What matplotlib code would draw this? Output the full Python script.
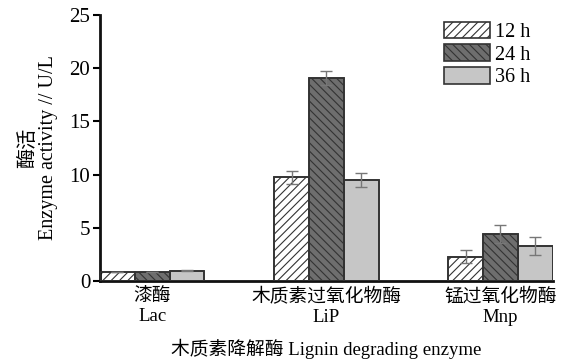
import matplotlib
matplotlib.use("Agg")
import matplotlib.pyplot as plt
import numpy as np

# Data
groups = ["漆酶\nLac", "木质素过氧化物酶\nLiP", "锰过氧化物酶\nMnp"]
series = ["12 h", "24 h", "36 h"]
values = {
    "12 h": [0.85, 9.75, 2.3],
    "24 h": [0.85, 19.05, 4.4],
    "36 h": [0.95, 9.5, 3.3],
}
errors = {
    "12 h": [0.04, 0.6, 0.6],
    "24 h": [0.04, 0.65, 0.85],
    "36 h": [0.05, 0.65, 0.85],
}
yticks = [0, 5, 10, 15, 20, 25]

# Styles
face = {"12 h": "white", "24 h": "#6e6e6e", "36 h": "#c6c6c6"}
hatch = {"12 h": "////", "24 h": "\\\\\\\\", "36 h": None}
hatch_col = {"12 h": "#9a9a9a", "24 h": "#222222", "36 h": "#333333"}

plt.rcParams['font.family'] = ['Liberation Serif', 'Noto Sans CJK SC']
plt.rcParams['hatch.linewidth'] = 0.8

fig = plt.figure(figsize=(5.88, 3.64), dpi=100)
ax = fig.add_axes([0.170, 0.228, 0.770, 0.731])

x = np.arange(len(groups))
width = 0.2
for i, s in enumerate(series):
    pos = x + (i - 1) * width
    # hatch layer
    ax.bar(pos, values[s], width, color=face[s], edgecolor=hatch_col[s],
           hatch=hatch[s], linewidth=0, zorder=2, label=s)
    # outline
    ax.bar(pos, values[s], width, color="none", edgecolor="#333333",
           linewidth=1.2, zorder=3)
    ax.errorbar(pos, values[s], yerr=errors[s], fmt="none", ecolor="#777777",
                elinewidth=1, capsize=4, capthick=1, zorder=4)

ax.set_xlim(-0.3, 2.3)
ax.set_ylim(0, 25)
ax.set_yticks(yticks)
ax.set_xticks(x)
ax.set_xticklabels(groups, fontsize=13.5, linespacing=1.25)
ax.tick_params(axis="x", length=0, pad=5)
ax.tick_params(axis="y", labelsize=15, direction="out", length=5, width=1.5,
               pad=2)

for side in ["top", "right"]:
    ax.spines[side].set_visible(False)
for side in ["left", "bottom"]:
    ax.spines[side].set_linewidth(2)
    ax.spines[side].set_color("#111111")

ax.set_ylabel("酶活\nEnzyme activity // U/L", fontsize=14.5, linespacing=1.1,
              labelpad=8)
ax.set_xlabel("木质素降解酶 Lignin degrading enzyme", fontsize=13.5, labelpad=9)

handles, labels = ax.get_legend_handles_labels()
for h in handles:
    for p in h.patches:
        p.set_linewidth(1.2)
        p.set_edgecolor("#333333")
leg = ax.legend(handles, labels, loc="upper left", bbox_to_anchor=(0.733, 1.02),
                frameon=False, fontsize=14.5, handlelength=2.3,
                handleheight=0.9, handletextpad=0.25, labelspacing=0.12,
                borderpad=0.1)

plt.savefig("out.png", dpi=100)
plt.close()
